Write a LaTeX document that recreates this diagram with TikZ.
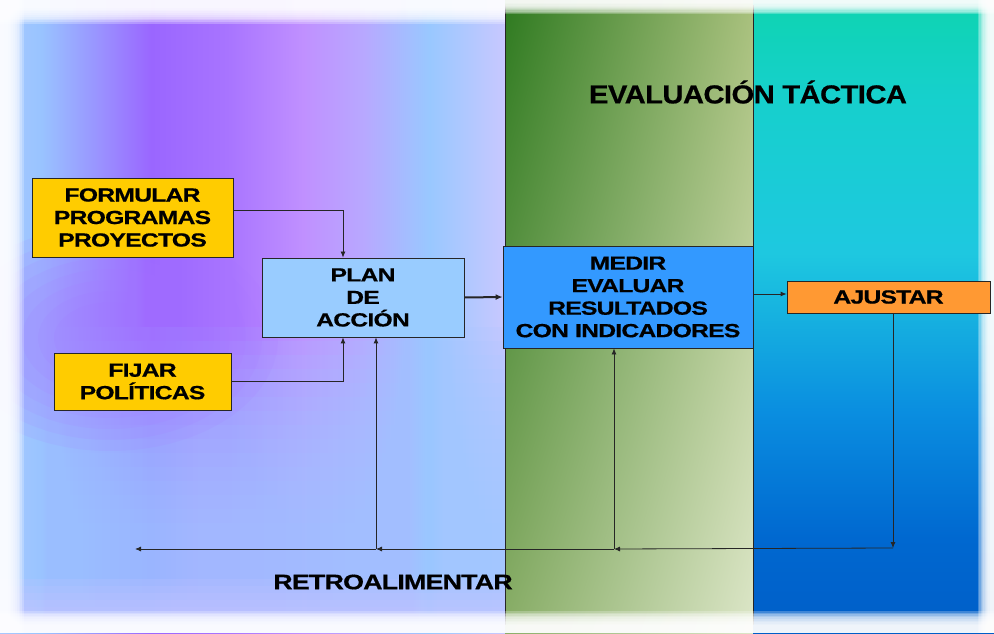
\documentclass[tikz,border=0pt]{standalone}
\usepackage{fontspec}
\setmainfont{Liberation Sans}
\newfontfamily\boxfont[FakeStretch=1.3,LetterSpace=-4,FakeBold=0.6]{Liberation Sans Bold}
\newfontfamily\titlefont[FakeStretch=1.12,LetterSpace=-2,FakeBold=0.6]{Liberation Sans Bold}
\newfontfamily\retrofont[FakeStretch=1.28,LetterSpace=-4,FakeBold=0.6]{Liberation Sans Bold}
\usetikzlibrary{arrows.meta,calc,shadings}
\definecolor{lb0}{HTML}{A8C8FF}
\definecolor{lb1}{HTML}{99C4FF}
\definecolor{lb2}{HTML}{9A66FF}
\definecolor{lb3}{HTML}{A874FF}
\definecolor{lb4}{HTML}{C090FF}
\definecolor{lb5}{HTML}{B8A8FF}
\definecolor{lb6}{HTML}{99C8FF}
\definecolor{lb7}{HTML}{C8C8FF}
\definecolor{lowblue}{HTML}{A2C6FF}
\definecolor{lav}{HTML}{C4C4FF}
\definecolor{g1}{HTML}{2E7A20}
\definecolor{g2}{HTML}{A8C07C}
\definecolor{g3}{HTML}{8AAE68}
\definecolor{g4}{HTML}{DCE6C8}
\definecolor{r0}{HTML}{005EC8}
\definecolor{r1}{HTML}{0068D0}
\definecolor{r2}{HTML}{0A8EE0}
\definecolor{r3}{HTML}{1EC8E0}
\definecolor{r4}{HTML}{16D0CC}
\definecolor{r5}{HTML}{0ED4B0}
\definecolor{yellowbox}{HTML}{FFCC00}
\definecolor{planbox}{HTML}{99CCFF}
\definecolor{medirbox}{HTML}{3399FF}
\definecolor{ajustbox}{HTML}{FF9933}
\definecolor{edge}{HTML}{262626}
\pgfdeclarehorizontalshading{leftbg}{100bp}{color(0bp)=(lb0); color(25bp)=(lb0); color(29bp)=(lb1); color(40bp)=(lb2); color(47.5bp)=(lb3); color(55bp)=(lb4); color(61bp)=(lb5); color(67.5bp)=(lb6); color(75bp)=(lb7); color(100bp)=(lb7)}
\pgfdeclareverticalshading{rightbg}{100bp}{color(0bp)=(r0); color(25bp)=(r0); color(32.5bp)=(r1); color(42.5bp)=(r2); color(55bp)=(r3); color(67.5bp)=(r4); color(75bp)=(r5); color(100bp)=(r5)}
\tikzset{
  box/.style={draw=edge, line width=0.8pt, align=center, inner sep=0pt,
    font=\boxfont\fontsize{19}{22.5}\selectfont},
  conn/.style={draw=edge, line width=0.8pt, -{Latex[length=6pt,width=5pt]}},
  thickconn/.style={draw=edge, line width=2pt, -{Latex[length=7pt,width=6pt]}},
  vline/.style={draw=edge, line width=0.9pt},
  veil/.style={fill=white, fill opacity=0.25}
}
\begin{document}
\begin{tikzpicture}[x=1pt,y=1pt]
\useasboundingbox (0,0) rectangle (994,633);
\fill[white] (0,0) rectangle (994,633);
% panels
\shade[shading=leftbg] (0,0) rectangle (505,633);
\foreach \i in {0,...,14} \fill[lowblue, fill opacity=0.12] (0,0) rectangle (505,{110+\i*14});
\begin{scope}
  \clip (0,0) rectangle (505,633);
  \foreach \r in {1,...,8} \fill[lb3, fill opacity=0.1] (110,295) ellipse ({40+\r*16} and {25+\r*11});
\end{scope}
\foreach \i in {1,...,6} \fill[lav, fill opacity=0.2] (0,0) rectangle (505,{12+\i*7});
\shade[upper left=g1, upper right=g2, lower left=g3, lower right=g4] (505,0) rectangle (753,633);
\shade[shading=rightbg] (753,0) rectangle (994,633);
\draw[vline] (505,8) -- (505,628);
\draw[vline] (753,8) -- (753,628);
% blurred white margins
\foreach \i in {1,...,10} {
  \fill[veil] (0,633) rectangle (505,{633-6-\i*1.8});
  \fill[veil] (505,633) rectangle (994,{633-2-\i*1.2});
  \fill[veil] (0,0) rectangle (994,{6+\i*1.6});
  \fill[veil] (0,0) rectangle ({6+\i*1.8},633);
  \fill[veil] (994,0) rectangle ({994-3-\i*1.3},633);
}
% nodes
\node[box, fill=yellowbox, minimum width=201pt, minimum height=79pt] (formular) at (132.5,415.5) {FORMULAR\\PROGRAMAS\\PROYECTOS};
\node[box, fill=yellowbox, minimum width=177pt, minimum height=57pt] (fijar) at (142.5,251.5) {FIJAR\\POLÍTICAS};
\node[box, fill=planbox, minimum width=202pt, minimum height=79pt] (plan) at (363,335.5) {PLAN\\DE\\ACCIÓN};
\node[box, fill=medirbox, minimum width=250pt, minimum height=102pt] (medir) at (628,336) {MEDIR\\EVALUAR\\RESULTADOS\\CON INDICADORES};
\node[box, fill=ajustbox, minimum width=203pt, minimum height=32pt] (ajustar) at (888.5,336) {AJUSTAR};
\node[font=\titlefont\fontsize{26}{30}\selectfont] (title) at (748,541) {EVALUACIÓN TÁCTICA};
\node[font=\retrofont\fontsize{21}{25}\selectfont] (retro) at (393,51) {RETROALIMENTAR};
% coordinates for the feedback loop
\coordinate (c1) at (893,85);
\coordinate (c2) at (614,84);
\coordinate (c3) at (376,84);
\coordinate (c4) at (135,84);
% connectors
\draw[conn] ([yshift=7.5pt]formular.east) -| ([xshift=-20pt]plan.north);
\draw[conn] (fijar.east) -| ([xshift=-20pt]plan.south);
\draw[thickconn] (plan.east) -- (medir.west);
\draw[conn] ([yshift=3pt]medir.east) -- ([yshift=3pt]ajustar.west);
\draw[conn] (ajustar.south -| c1) -- (c1);
\draw[conn] (c1) -- (c2);
\draw[conn] (c2) -- (c2 |- medir.south);
\draw[conn] (c2) -- (c3);
\draw[conn] (c3) -- (c3 |- plan.south);
\draw[conn] (c3) -- (c4);
\end{tikzpicture}
\end{document}
